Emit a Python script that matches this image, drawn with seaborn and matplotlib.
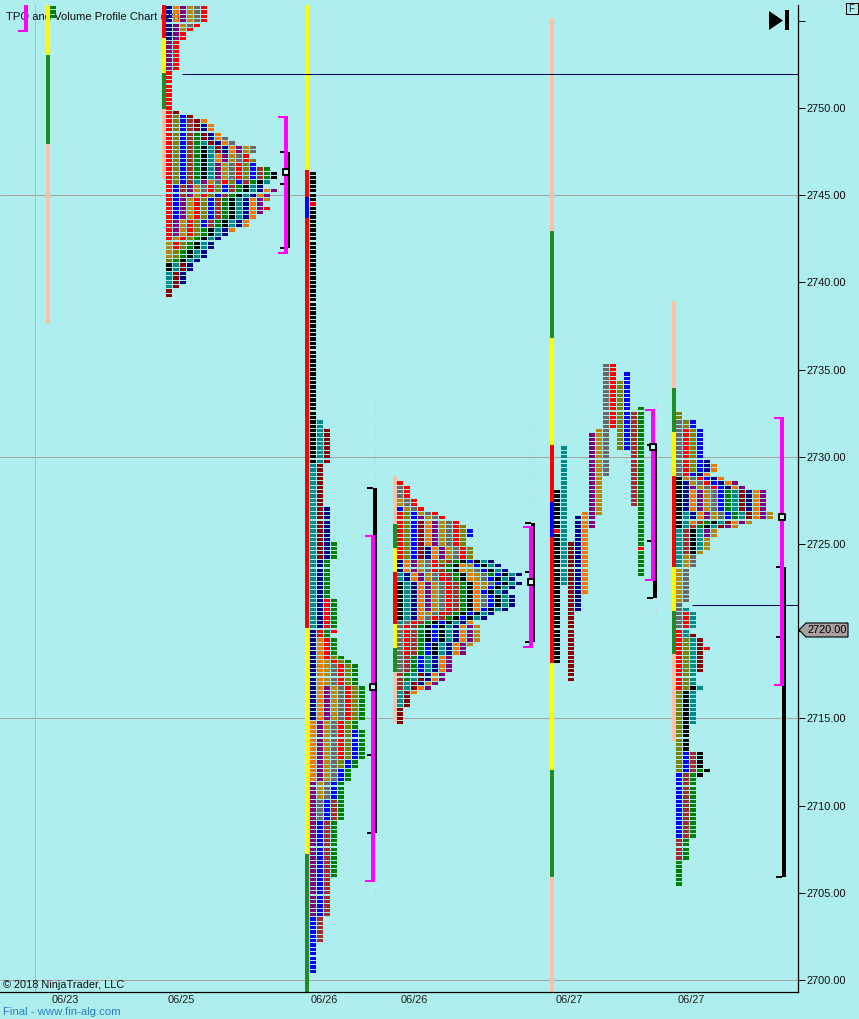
import pandas as pd
import matplotlib
matplotlib.use("Agg")
import matplotlib.pyplot as plt
import seaborn as sns
from matplotlib.path import Path
from matplotlib.patches import Polygon, Rectangle
from matplotlib.transforms import Affine2D

# TPO letters -> colours
tpo_colors = {"K": "#000000", "T": "#008B8B", "D": "#8B0000", "N": "#00008B", "O": "#F07800",
              "P": "#800080", "G": "#B8860B", "Y": "#696969", "R": "#FF0000", "L": "#808000",
              "B": "#0000FF", "W": "#A52A2A", "E": "#008000"}
strip_colors = {"Y": "#FFFF00", "E": "#228B22", "S": "#FFC0A8", "R": "#FF0000", "B": "#0000FF"}

# session 0: a lone green block
z_x, z_top, z_letters = 50, 2755.75, "E"
z_first = [0]
z_last = [2]

# session 06/25
a_x, a_top = 166, 2755.75
a_letters = "NOPGYRLBWEKTDNOPGYRLBWEKTDNOPGR"
a_first = [0, 0, 0, 0, 0, 0, 25, 25, 26, 29, 32, 31, 24, 27, 26, 32, 32, 30, 34, 35, 36, 37, 37, 38, 40, 59, 41, 42, 42, 44, 46]
a_last = [7, 3, 14, 5, 4, 53, 40, 48, 43, 39, 39, 40, 33, 33, 35, 52, 57, 42, 55, 58, 50, 50, 58, 60, 64, 66, 63, 51, 47, 44, 46]

# session 06/26 first
b_x, b_top = 310, 2746.25
b_letters = "KTDNOPGYRLBWER"
b_first = [0, 57, 59, 77, 107, 118, 112, 113, 98, 111, 128, 144, 85, 105]
b_last = [66, 104, 88, 125, 139, 170, 143, 148, 134, 136, 183, 176, 161, 105]
b_opens = [(0, 7)]

# session 06/26 second
c_x, c_top = 397, 2728.5
c_letters = "RLBKTDNOPGYRLBWEKOGYEYBKTDNOPG"
c_first = [7, 7, 6, 23, 21, 9, 15, 9, 8, 4, 1, 0, 10, 11, 18, 18, 18, 19, 19, 20, 21, 26, 18, 18, 18, 44, 18, 32, 33, 33]
c_last = [17, 17, 17, 31, 32, 17, 31, 31, 29, 30, 43, 39, 18, 12, 47, 45, 36, 29, 24, 23, 21, 28, 43, 39, 51, 55, 46, 48, 47, 37]

# session 06/27 first, split profile (every letter keeps its own column)
d_x, d_top = 554, 2735.25
d_letters = "KTDNOPGYRLBWE"
d_first = [29, 19, 41, 35, 34, 16, 15, 0, 0, 4, 2, 11, 10]
d_last = [68, 50, 72, 56, 52, 37, 34, 25, 14, 19, 19, 32, 48]
d_opens = [(0, 38), (12, 42)]

# session 06/27 second
e_x, e_top = 676, 2732.5
e_letters = "KTNOPGYRLBWEKTDNOPGYRLBWEKTDR"
e_first = [15, 23, 16, 18, 17, 15, 2, 4, 0, 2, 25, 18, 25, 18, 18, 11, 12, 16, 23, 33, 46, 52, 78, 78, 82, 63, 45, 51, 54]
e_last = [26, 35, 24, 25, 24, 24, 24, 17, 13, 24, 32, 26, 32, 31, 26, 22, 25, 28, 43, 49, 63, 82, 97, 102, 108, 83, 71, 59, 54]

# session strips on the left of each profile
strip_x = [48, 164, 307, 395, 552, 674]
strip_letters = ["YES", "RYES", "YRBRYE", "SEYRYES", "SEYRBRYES", "SEYRYES"]
strip_edges = [[2756, 2753.05, 2747.95, 2737.7],
               [2756, 2754, 2752, 2749.95, 2745.95],
               [2756, 2746.45, 2744.9, 2743.7, 2720.2, 2707.2, 2699],
               [2728.9, 2726.15, 2724.75, 2723.4, 2720.4, 2719.05, 2717.65, 2714.75],
               [2755.15, 2742.95, 2736.8, 2730.7, 2727.4, 2725.4, 2718.2, 2712.05, 2705.9, 2699],
               [2738.95, 2733.95, 2731.4, 2728.9, 2723.7, 2721.15, 2718.7, 2713.7]]

# value area (magenta), range (black), POC
va_x = [26, 286, 373, 531, 653, 782]
va_high = [2757, 2749.48, 2725.46, 2725.97, 2732.68, 2732.22]
va_low = [2754.4, 2741.69, 2705.68, 2719.11, 2722.94, 2716.92]
rng_x = [288, 375, 533, 655, 784]
rng_high = [2747.5, 2728.2, 2726.2, 2730.68, 2723.68]
rng_low = [2742.0, 2708.43, 2719.38, 2721.9, 2705.9]
rng_mid = [2745.64, 2712.9, 2723.4, 2725.17, 2719.67]
poc_x = [285.5, 372.5, 530.5, 652.5, 781.5]
poc_price = [2746.33, 2716.82, 2722.82, 2730.56, 2726.55]

# naked POC lines
naked_start = [182, 692]
naked_price = [2751.95, 2721.5]

# faint dashes through the range bars
dash_x = [375, 533, 655.5]
dash_high = [2733.3, 2732.3, 2733.4]
dash_low = [2704.8, 2718.4, 2721.1]

grid_prices = [2700, 2715, 2730, 2745]
date_pos = [65, 181, 324, 414, 569, 691]
date_labels = ["06/23", "06/25", "06/26", "06/26", "06/27", "06/27"]
tick_prices = [2700, 2705, 2710, 2715, 2720, 2725, 2730, 2735, 2740, 2745, 2750, 2755]
tick_labels = ["2700.00", "2705.00", "2710.00", "2715.00", "", "2725.00", "2730.00", "2735.00",
               "2740.00", "2745.00", "2750.00", ""]

STEP = 7
TICK = 0.25
BG = "#AFEEEE"


def build_cells(x0, top, letters, first, last, split=False, opens=()):
    # stack every letter to the left like a normal market profile
    rows = []
    used = {}
    for i, (ch, r0, r1) in enumerate(zip(letters, first, last)):
        for r in range(r0, r1 + 1):
            col = i if split else used.get(r, 0)
            used[r] = col + 1
            code = "R" if (i, r) in opens else ch
            rows.append((x0 + 3 + STEP * col, top - TICK * r, code))
    return rows


cells = []
cells += build_cells(z_x, z_top, z_letters, z_first, z_last)
cells += build_cells(a_x, a_top, a_letters, a_first, a_last)
cells += build_cells(b_x, b_top, b_letters, b_first, b_last, opens=b_opens)
cells += build_cells(c_x, c_top, c_letters, c_first, c_last)
cells += build_cells(d_x, d_top, d_letters, d_first, d_last, split=True, opens=d_opens)
cells += build_cells(e_x, e_top, e_letters, e_first, e_last)
df = pd.DataFrame(cells, columns=["x", "price", "letter"])

sns.set_theme(style="ticks", rc={"axes.facecolor": BG, "figure.facecolor": BG, "savefig.facecolor": BG})
plt.rcParams["font.family"] = ["Liberation Sans", "DejaVu Sans"]

fig = plt.figure(figsize=(8.59, 10.19), dpi=100)
ax = fig.add_axes([0, 27 / 1019, 798 / 859, 987 / 1019])
ax.set_xlim(0, 798)
ax.set_ylim(2750 - (992 - 108) / 17.44, 2750 + (108 - 5) / 17.44)
px = Affine2D().scale(1, -1).translate(0, 1019)

# grid
ax.hlines(grid_prices, 0, 798, color="#A9A0A0", lw=0.72, zorder=1).set_snap(True)
ax.axvline(34.5, color="#C4B2B2", lw=0.72, zorder=1)
ax.vlines(dash_x, dash_low, dash_high, color="#C4D4F0", lw=0.72, linestyles=(0, (5, 7)), zorder=1)

ax.text(6, 2755.2, "TPO and Volume Profile Chart (v4)", fontsize=8.1, color="#101010", va="center", zorder=1.5)
ax.text(3, 2699.7, "\u00a9 2018 NinjaTrader, LLC", fontsize=7.9, color="#101010", va="center", zorder=1.5)

# TPO blocks, 6 wide and a bit over 3 tall so a gap stays between rows after snapping
marker = Path([(-3, -1.65), (3, -1.65), (3, 1.65), (-3, 1.65), (-3, -1.65)], closed=True)
sns.scatterplot(data=df, x="x", y="price", hue="letter", palette=tpo_colors, marker=marker,
                s=(6 * 0.72) ** 2, linewidth=0, edgecolor="none", legend=False, ax=ax, zorder=3)
ax.collections[-1].set_snap(True)

# session strips
for sx, letters, edges in zip(strip_x, strip_letters, strip_edges):
    for k, ch in enumerate(letters):
        ax.vlines(sx, edges[k + 1], edges[k], color=strip_colors[ch], lw=2.88, zorder=2)

ax.hlines(naked_price, naked_start, 798, color="#000050", lw=0.72, zorder=2.5).set_snap(True)

# range bars below the value area bars
for bx, hi, lo, mid in zip(rng_x, rng_high, rng_low, rng_mid):
    ax.vlines(bx, lo, hi, color="black", lw=2.88, zorder=4)
    ax.hlines([hi, lo, mid], bx - 8, bx - 2, color="black", lw=1.44, zorder=4)
for vx, hi, lo in zip(va_x, va_high, va_low):
    ax.vlines(vx, lo, hi, color="#FF00FF", lw=2.88, zorder=5)
    ax.hlines([hi, lo], vx - 8, vx + 2, color="#FF00FF", lw=1.44, zorder=5)
sns.scatterplot(x=poc_x, y=poc_price, marker="s", s=(6 * 0.72) ** 2, color="#D8F4F4", edgecolor="black",
                linewidth=1.44, legend=False, ax=ax, zorder=6)

# axes
for side in ["left", "top"]:
    ax.spines[side].set_visible(False)
for side in ["right", "bottom"]:
    ax.spines[side].set_linewidth(0.9)
    ax.spines[side].set_color("black")
ax.set_xlabel("")
ax.set_ylabel("")
ax.yaxis.tick_right()
ax.set_yticks(tick_prices)
ax.set_yticklabels(tick_labels, fontsize=7.9, color="#101010")
ax.set_xticks(date_pos)
ax.set_xticklabels(date_labels, fontsize=7.9, color="#202020")
ax.tick_params(axis="y", length=5, width=0.72, pad=1, color="black")
ax.tick_params(axis="x", length=0, pad=2)

# last price flag
fig.add_artist(Polygon([(799, 630), (806, 623), (848, 623), (848, 637), (806, 637)], closed=True, facecolor="#A9A0A0",
                       edgecolor="black", lw=0.8, transform=px))
fig.text(807, 630, "2720.00", fontsize=7.9, color="black", va="center", transform=px)

# go-to-end button and F box
fig.add_artist(Polygon([(769, 11), (783, 20.5), (769, 30)], closed=True, facecolor="black", edgecolor="none", transform=px))
fig.add_artist(Rectangle((785, 10), 3.5, 20, facecolor="black", edgecolor="none", transform=px))
fig.add_artist(Rectangle((845.5, 2.5), 12, 11.5, facecolor="none", edgecolor="black", lw=0.72, transform=px))
fig.text(851.5, 8.5, "F", fontsize=7, color="#202020", ha="center", va="center", transform=px)

fig.text(3, 1012, "Final - www.fin-alg.com", fontsize=8.2, color="#2E7FC0", va="center", transform=px)

fig.savefig("out.png", dpi=100)
